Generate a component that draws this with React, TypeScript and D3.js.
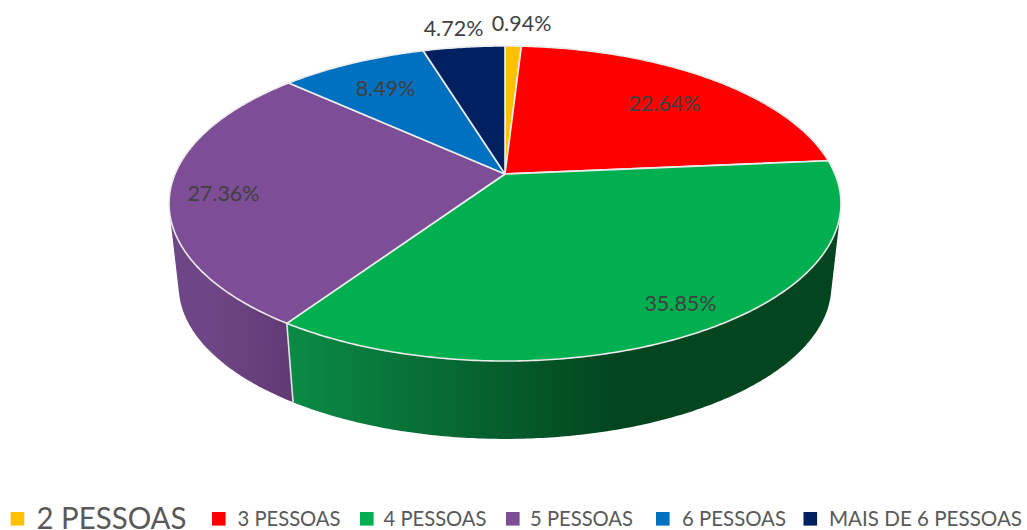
import React from "react";
import * as d3 from "d3";

const categories = ["2 PESSOAS", "3 PESSOAS", "4 PESSOAS", "5 PESSOAS", "6 PESSOAS", "MAIS DE 6 PESSOAS"];
const shares = [0.94, 22.64, 35.85, 27.36, 8.49, 4.72];
const topColors = ["#FFC000", "#FF0000", "#00B050", "#7D4E96", "#0070C0", "#002060"];
const sideStart = ["#B38600", "#B30000", "#0A8A45", "#6F4685", "#005088", "#001644"];
const sideEnd = ["#664D00", "#660000", "#03451F", "#623A76", "#002E4E", "#000C26"];

const labelX = [521.5, 664.5, 680.5, 223.5, 385.5, 453.5];
const labelBase = [31, 111, 311, 201, 96, 36];
const legendSwatchX = [10.7, 212, 360, 506, 656, 803.5];
const legendTextX = [36.5, 237.5, 383.5, 530, 682, 829];
const legendTextW = [150, 103, 103, 103, 104, 193];
const legendFont = [30, 21, 21, 21, 21, 21];

const W = 1027, H = 530;
const CX = 505, CY = 174;
const B = 330, A = 152, K = 0.1873;
const S = 0.9714, VY = 3084;

const topPt = (t: number): [number, number] => {
  const u = Math.sin(t), v = -Math.cos(t), w = 1 - K * v;
  return [CX + (B * u) / w, CY + (A * v) / w];
};
const botPt = (t: number): [number, number] => {
  const [x, y] = topPt(t);
  return [CX + (x - CX) * S, VY + (y - VY) * S];
};

const pieGen = d3.pie<number>().sort(null).value((d) => d);
const arcs = pieGen(shares);
const line = d3.line();

const sampleRange = (a: number, b: number) => {
  const n = Math.max(2, Math.ceil((b - a) / 0.01));
  return d3.range(n + 1).map((i) => a + ((b - a) * i) / n);
};

const FRONT_A = (70 * Math.PI) / 180, FRONT_B = (290 * Math.PI) / 180;
const sides = arcs
  .map((a, i) => ({ i, a0: Math.max(a.startAngle, FRONT_A), a1: Math.min(a.endAngle, FRONT_B) }))
  .filter((d) => d.a1 > d.a0);

const gradientX = (i: number, a0: number, a1: number) => {
  if (i === 2) return [293, 615];
  return [topPt(a1)[0], topPt(a0)[0]];
};

export default function App() {
  return (
    <svg width={W} height={H} viewBox={`0 0 ${W} ${H}`} style={{ position: "absolute", left: 0, top: 0, display: "block", background: "#fff" }}>
      <defs>
        {sides.map((d) => {
          const [x1, x2] = gradientX(d.i, d.a0, d.a1);
          return (
            <linearGradient key={d.i} id={`side${d.i}`} gradientUnits="userSpaceOnUse" x1={x1} x2={x2} y1={0} y2={0}>
              <stop offset="0" stopColor={sideStart[d.i]} />
              <stop offset="1" stopColor={sideEnd[d.i]} />
            </linearGradient>
          );
        })}
      </defs>
      {sides.map((d) => {
        const ts = sampleRange(d.a0, d.a1);
        const hull = d3.polygonHull([...ts.map(topPt), ...ts.map(botPt)]) as [number, number][];
        return <path key={d.i} d={line(hull) + "Z"} fill={`url(#side${d.i})`} />;
      })}
      {sides
        .filter((d) => d.a0 > FRONT_A && d.a0 < FRONT_B)
        .map((d) => (
          <path key={d.i} d={line([topPt(d.a0), botPt(d.a0)]) as string} stroke="#E4E4E8" strokeWidth={1.6} fill="none" />
        ))}
      {arcs.map((a, i) => {
        const pts = sampleRange(a.startAngle, a.endAngle).map(topPt);
        return (
          <path
            key={i}
            d={line([[CX, CY], ...pts]) + "Z"}
            fill={topColors[i]}
            stroke="#ECECEC"
            strokeWidth={1.6}
            strokeLinejoin="round"
          />
        );
      })}
      {shares.map((s, i) => (
        <text
          key={i}
          x={labelX[i]}
          y={labelBase[i]}
          textAnchor="middle"
          fontFamily="Lato, sans-serif"
          fontSize={21.5}
          fill="#404040"
        >
          {d3.format(".2f")(s)}%
        </text>
      ))}
      {categories.map((c, i) => (
        <g key={c}>
          <rect x={legendSwatchX[i]} y={512} width={13.6} height={13.6} fill={topColors[i]} />
          <text
            x={legendTextX[i]}
            y={i === 0 ? 528.5 : 526}
            fontFamily="Lato, sans-serif"
            fontSize={legendFont[i]}
            fill="#595959"
            textLength={legendTextW[i]}
            lengthAdjust="spacingAndGlyphs"
          >
            {c}
          </text>
        </g>
      ))}
    </svg>
  );
}
